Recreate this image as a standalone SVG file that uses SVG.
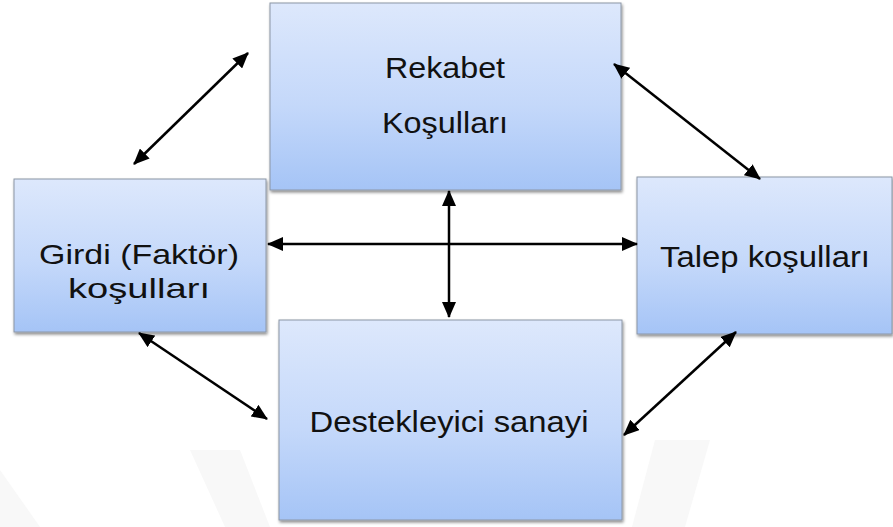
<svg xmlns="http://www.w3.org/2000/svg" width="893" height="527" viewBox="0 0 893 527">
  <defs>
    <linearGradient id="boxGrad" x1="0" y1="0" x2="0" y2="1">
      <stop offset="0" stop-color="#dde8fc"/>
      <stop offset="0.55" stop-color="#c4d8fa"/>
      <stop offset="1" stop-color="#a5c4f6"/>
    </linearGradient>
    <filter id="shadow" x="-5%" y="-5%" width="112%" height="115%">
      <feDropShadow dx="1" dy="2" stdDeviation="1.5" flood-color="#000" flood-opacity="0.45"/>
    </filter>
    <marker id="ah" viewBox="0 0 16 14" markerUnits="userSpaceOnUse" markerWidth="16" markerHeight="14" refX="15" refY="7" orient="auto-start-reverse">
      <path d="M0,0 L16,7 L0,14 z" fill="#000"/>
    </marker>
  </defs>
  <style>
    .box { fill: url(#boxGrad); stroke: #8c96a6; stroke-width: 1; filter: url(#shadow); }
    .lbl { font-family: "Liberation Sans", Arial, sans-serif; font-size: 29px; fill: #111; text-anchor: middle; }
    .small { font-size: 28px; }
    .conn { stroke: #000; stroke-width: 2.5; fill: none; marker-start: url(#ah); marker-end: url(#ah); }
    .wm { fill: #f8f8f8; }
  </style>
  <rect width="893" height="527" fill="#fff"/>
  <g id="watermark">
    <polygon class="wm" points="0,470 40,527 0,527"/>
    <polygon class="wm" points="190,450 240,450 270,527 225,527"/>
    <polygon class="wm" points="655,440 710,440 685,527 632,527"/>
  </g>
  <g id="node-rekabet">
    <rect class="box" x="270" y="3" width="351" height="187"/>
    <text class="lbl" x="445" y="78" textLength="120" lengthAdjust="spacingAndGlyphs">Rekabet</text>
    <text class="lbl" x="445" y="133" textLength="126" lengthAdjust="spacingAndGlyphs">Koşulları</text>
  </g>
  <g id="node-girdi">
    <rect class="box" x="14" y="179" width="252" height="153"/>
    <text class="lbl small" x="139" y="264" textLength="200" lengthAdjust="spacingAndGlyphs">Girdi (Faktör)</text>
    <text class="lbl small" x="139" y="298" textLength="142" lengthAdjust="spacingAndGlyphs">koşulları</text>
  </g>
  <g id="node-talep">
    <rect class="box" x="637" y="177" width="255" height="157"/>
    <text class="lbl" x="765" y="267" textLength="210" lengthAdjust="spacingAndGlyphs">Talep koşulları</text>
  </g>
  <g id="node-destekleyici">
    <rect class="box" x="279" y="320" width="343" height="200"/>
    <text class="lbl" x="449" y="432" textLength="279" lengthAdjust="spacingAndGlyphs">Destekleyici sanayi</text>
  </g>
  <g id="connectors">
    <line class="conn" x1="134" y1="164" x2="248" y2="53"/>
    <line class="conn" x1="614" y1="64" x2="760" y2="179"/>
    <line class="conn" x1="268" y1="244" x2="637" y2="244"/>
    <line class="conn" x1="449" y1="191" x2="449" y2="317"/>
    <line class="conn" x1="139" y1="333" x2="267" y2="419"/>
    <line class="conn" x1="736" y1="332" x2="624" y2="435"/>
  </g>
</svg>
